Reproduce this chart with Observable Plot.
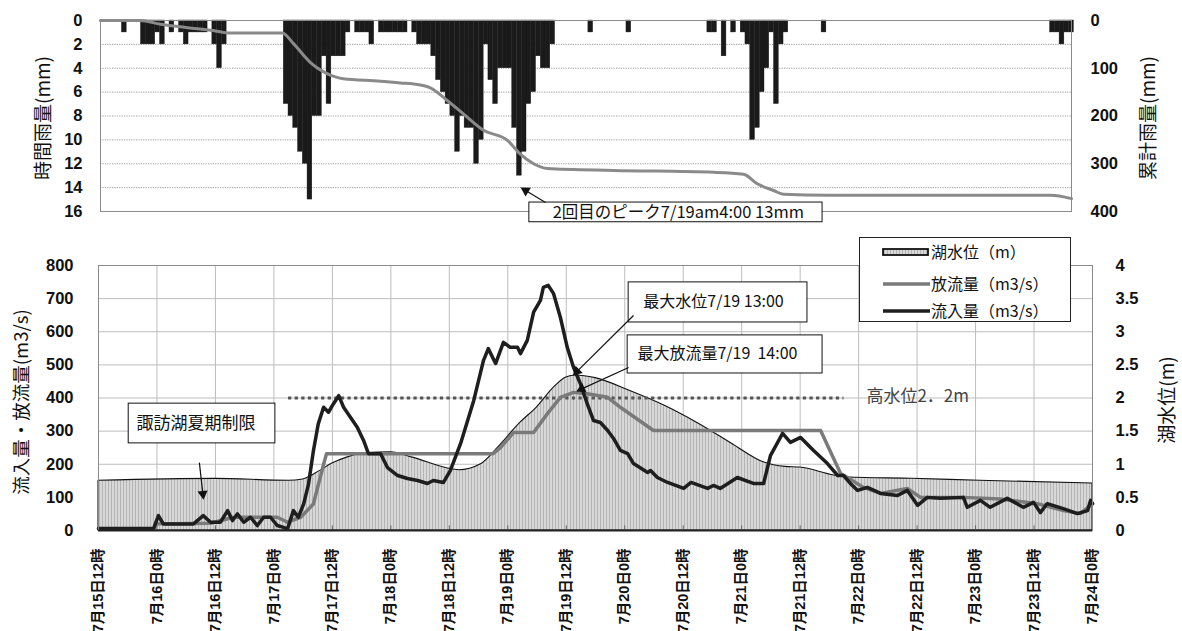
<!DOCTYPE html>
<html><head><meta charset="utf-8">
<script src="https://cdn.jsdelivr.net/npm/d3@7"></script>
<script src="https://cdn.jsdelivr.net/npm/@observablehq/plot@0.6"></script>
<style>
body{margin:0;background:#fff;}
#wrap{position:relative;width:1182px;height:631px;overflow:hidden;}
#top,#bottom{position:absolute;left:0;}
#top{top:0;} #bottom{top:230px;}
#legend{position:absolute;left:859px;top:237px;width:210px;height:83px;border:1px solid #222;background:#fff;}
#legend text{font-family:"Noto Sans CJK JP",sans-serif;font-size:16px;fill:#111;}
</style></head><body>
<div id="wrap"><div id="top"></div><div id="bottom"></div>
<div id="legend"><svg width="210" height="83">
<defs><pattern id="hatchL" patternUnits="userSpaceOnUse" width="3" height="3"><rect width="3" height="3" fill="#d8d8d8"/><rect width="1" height="3" fill="#b4b4b4"/></pattern></defs>
<rect x="23" y="11" width="45" height="6" fill="url(#hatchL)" stroke="#111" stroke-width="1.8"/>
<line x1="23" x2="70" y1="46" y2="46" stroke="#7a7a7a" stroke-width="3.5"/>
<line x1="23" x2="70" y1="73" y2="73" stroke="#1e1e1e" stroke-width="3.5"/>
<text x="71" y="20">湖水位（m）</text>
<text x="71" y="52">放流量（m3/s）</text>
<text x="71" y="79">流入量（m3/s）</text>
</svg></div>
</div>
<script>
// ---------- data ----------
// hourly rainfall (hours since 7/15 12:00)
const rainHour = [4, 8,9,10, 11, 12, 14, 16, 17, 18,19,20,21, 23, 24, 25,
  38,39,40,41,42,43,44,45,46,47,48,49,50,51, 53,54,55,56, 58,59,60,61,62,63,
  65,66,67,68,69,70,71,72,73,74,75,76,77,78,79,80,81,82,83,84,85,86,87,88,89,90,91,92,93,94,
  102, 110, 127,128, 130, 132, 134,135,136,137,138,139,140,141,142,143, 151, 199,200,201,202,203];
const rainMm = [1, 2,2,2, 1, 2, 1, 1, 2, 1,1,1,1, 2, 4, 2,
  7,8,9,11,12,15,8,8,3,7,3,3,3,1, 1,1,1,2, 1,1,1,1,1,1,
  1,2,2,2,3,5,6,7,8,11,8,9,9,12,10,2,5,7,4,4,4,9,13,11,7,6,3,4,4,2,
  1, 1, 1,1, 3, 1, 1,2,10,9,6,4,1,7,2,1, 1, 1,1,2,1,1];
// cumulative rainfall (mm)
const cumHour = [-0.5,7.9,12.1,17.8,23.2,26.2,37.7,40,43.6,46.3,48.5,50.5,58.3,62.5,65.3,68.8,72.4,75.8,80,85,87.7,90.5,93.4,107.3,128.3,134.6,137.5,140.9,143,152.2,199.1,203.5];
const cumMm = [0,0,8,15,21,26,26,48,88,107,117,122,127,131,133,141,168,196,230,251,280,300,310,314,318,322,342,356,364,366,366,373];
// inflow (m3/s)
const inflowH = [0,11.3,12.3,13.3,19.5,21.5,23,25,26.5,27.5,28.5,29.8,31.2,32.6,33.9,35.3,36.7,37.8,38.8,40,41,42.1,43.1,44.1,45.1,46.2,47.2,48.2,49.3,50.3,51.7,53.1,54.4,55.4,57.9,59.3,61.4,63.4,65.5,67.5,68.7,70.8,72.2,74.3,77,79,80,81.5,83.1,84.5,86,86.6,88,89.3,90.7,91.3,92.3,93.4,94.8,96.2,97.5,98.9,100.3,101.6,103,104.5,105.7,107.1,108.6,109.8,112.7,113.3,114.7,116.8,120.1,121.6,125,126.2,127.6,131.1,134.4,136.5,137.9,140.4,142,144.1,146.7,149.6,151.7,152.9,154.3,155.8,157.8,160.5,164,166,168.1,170.1,172.8,177.5,178.3,181,183,186.5,189.8,191.9,193.3,194.7,198,200.9,203,203.6,204];
const inflowV = [6,6,45,20,20,45,25,25,60,30,50,25,40,15,40,40,15,10,5,60,40,80,140,240,322,372,357,382,407,372,342,312,272,232,232,190,166,157,151,142,151,145,181,262,392,513,549,504,568,553,553,534,574,659,695,734,740,715,643,553,492,443,383,332,326,302,278,242,232,202,175,181,160,145,127,145,127,136,127,160,142,142,226,293,266,281,242,202,166,166,142,121,130,112,106,121,76,100,97,100,70,91,70,97,70,85,54,81,66,51,60,91,81];
// outflow (m3/s)
const outH = [0,11.3,12,23,27.7,36.7,38.8,41.5,44.1,46.2,46.8,81,82.5,85.2,89.3,92.1,94.8,97.5,100.3,104.5,107.1,113.9,148.2,152.3,153.7,157,160.5,166,168.7,177.5,185.1,192.7,198,201.5,204];
const outV = [5,5,20,22,40,40,25,40,80,200,232,232,250,296,296,352,402,417,413,402,372,302,302,172,160,130,112,127,100,100,95,81,60,51,81];
// lake level (m)
const lakeH = [0,24,39,42,45.5,48,51,55,60,64.5,71.5,74,78.5,82,86.5,90,93.5,96,98,102,109,116,123,130,136.5,141,144,151,154,167,181,204];
const lakeM = [0.75,0.78,0.75,0.77,0.9,1.01,1.1,1.17,1.18,1.1,0.94,0.91,1.0,1.25,1.62,1.86,2.16,2.31,2.34,2.3,2.11,1.89,1.62,1.31,1.03,0.96,0.95,0.83,0.8,0.78,0.75,0.71];
const highWater = 400; // drawn level on flow axis
const highWaterSpan = [39, 153];
const xTicks = d3.range(0, 205, 12);
const xLabels = ["7月15日12時","7月16日0時","7月16日12時","7月17日0時","7月17日12時","7月18日0時","7月18日12時","7月19日0時","7月19日12時","7月20日0時","7月20日12時","7月21日0時","7月21日12時","7月22日0時","7月22日12時","7月23日0時","7月23日12時","7月24日0時"];
const rainTicks = [0,2,4,6,8,10,12,14,16];
const cumTicks = [0,100,200,300,400];
const flowTicks = [0,100,200,300,400,500,600,700,800];
const levelTicks = [0,0.5,1,1.5,2,2.5,3,3.5,4];

// ---------- helpers ----------
const rain = rainHour.map((h,i)=>({h, mm: rainMm[i]}));
const cum = cumHour.map((h,i)=>({h, v: cumMm[i]}));
const inflow = inflowH.map((h,i)=>({h, v: inflowV[i]}));
const outflow = outH.map((h,i)=>({h, v: outV[i]}));
const lake = lakeH.map((h,i)=>({h, m: lakeM[i]}));
const NUM = '"Liberation Sans","Noto Sans CJK JP",sans-serif';
const JP = '"Noto Sans CJK JP",sans-serif';

function arrowMarks(arr, sx, sy){
  const tips = arr.map(d => {
    const px1=sx(d.x1), py1=sy(d.y1), px2=sx(d.x2), py2=sy(d.y2);
    const L=Math.hypot(px2-px1,py2-py1), ux=(px2-px1)/L, uy=(py2-py1)/L;
    return {x: sx.invert(px2-ux*3.5), y: sy.invert(py2-uy*3.5), r: Math.atan2(ux,-uy)*180/Math.PI};
  });
  return [
    Plot.link(arr, {x1:"x1", y1:"y1", x2:"x2", y2:"y2", stroke:"#111", strokeWidth:1.2}),
    Plot.dot(tips, {x:"x", y:"y", rotate:"r", symbol:"triangle", r:3.8, fill:"#111", stroke:null})
  ];
}

// ---------- top chart ----------
const tX = [-0.5, 203.5], tY = [0, 16];
const sxT = d3.scaleLinear(tX, [100, 1071]), syT = d3.scaleLinear(tY, [20, 211]);
const peak2 = rain.reduce((a,b)=> b.h>60 && b.mm>a.mm ? b : a, {mm:-1});
const topPlot = Plot.plot({
  width:1182, height:232, marginLeft:100, marginRight:111, marginTop:20, marginBottom:21,
  style:{background:"transparent", overflow:"visible", fontFamily:NUM, color:"#111"},
  x:{domain:tX, axis:null},
  y:{domain:tY, reverse:true, axis:null},
  marks:[
    Plot.ruleY(d3.range(2,16,2), {stroke:"#9a9a9a", strokeDasharray:"1.2,1.2", strokeWidth:1}),
    Plot.rect(rain, {x1:"h", x2:d=>d.h+1, y1:d=>0, y2:"mm", fill:"#1a1a1a", stroke:"#1a1a1a", strokeWidth:0.4, inset:0}),
    Plot.line(cum, {x:"h", y:d=>d.v/25, stroke:"#8a8a8a", strokeWidth:3, curve:"monotone-x"}),
    Plot.frame({stroke:"#8a8a8a"}),
    Plot.axisY({anchor:"left", ticks:rainTicks, tickSize:0, tickPadding:18, fontSize:16.5, fontWeight:"bold", label:null}),
    Plot.axisY({anchor:"right", ticks:cumTicks.map(d=>d/25), tickFormat:d=>d*25, tickSize:0, tickPadding:19, fontSize:16.5, fontWeight:"bold", label:null}),
    Plot.text(["時間雨量(mm)"], {text:d=>d, frameAnchor:"left", textAnchor:"middle", dx:-57, dy:2, rotate:-90, fontSize:19, fontFamily:JP, fill:"#111"}),
    Plot.text(["累計雨量(mm)"], {text:d=>d, frameAnchor:"right", textAnchor:"middle", dx:77, dy:2, rotate:-90, fontSize:19, fontFamily:JP, fill:"#111"}),
    Plot.rect([{x1:89.6, x2:151.2, y1:15.25, y2:16.9}], {x1:"x1", x2:"x2", y1:"y1", y2:"y2", fill:"#fff", stroke:"#111", strokeWidth:1}),
    Plot.text(["2回目のピーク7/19am4:00 13mm"], {text:d=>d, x:()=>94.5, y:()=>16.1, textAnchor:"start", fontSize:16.5, fontFamily:JP, fill:"#111"}),
    ...arrowMarks([{x1:93, y1:15.25, x2:peak2.h+1.2, y2:peak2.mm+1.1}], sxT, syT)
  ]
});
document.getElementById("top").appendChild(topPlot);

// ---------- bottom chart ----------
const bX = [0, 204], bY = [0, 800];
const sxB = d3.scaleLinear(bX, [98, 1092]), syB = d3.scaleLinear(bY, [530, 265]);
const lakePeak = lake.reduce((a,b)=> b.m>a.m ? b : a);
const outPeak = outflow.reduce((a,b)=> b.v>a.v ? b : a);
const boxes = [
  {x1:6.2, x2:36.3, y1:263, y2:383},
  {x1:108.8, x2:145.5, y1:628, y2:749},
  {x1:108.6, x2:148.6, y1:474, y2:589}
];
const notes = [
  {x:7.8, y:323, t:"諏訪湖夏期制限", s:17, c:"#111"},
  {x:111.8, y:690, t:"最大水位7/19 13:00", s:16, c:"#111"},
  {x:110.6, y:532, t:"最大放流量7/19\u00a0\u00a014:00", s:16, c:"#111"},
  {x:157.6, y:405, t:"高水位2．2m", s:17, c:"#444"}
];
const bottomPlot = Plot.plot({
  width:1182, height:401, marginLeft:98, marginRight:90, marginTop:35, marginBottom:101,
  style:{background:"transparent", overflow:"visible", fontFamily:NUM, color:"#111"},
  x:{domain:bX, axis:null},
  y:{domain:bY, axis:null},
  marks:[
    Plot.ruleX(xTicks.slice(1,-1), {stroke:"#bdbdbd", strokeWidth:1}),
    Plot.ruleY(flowTicks.slice(1,-1), {stroke:"#bdbdbd", strokeWidth:1}),
    Plot.areaY(lake, {x:"h", y:d=>d.m*200, fill:"url(#hatch)", stroke:"#111", strokeWidth:1.1, curve:"monotone-x"}),
    Plot.ruleX(xTicks.slice(1,-1), {y1:()=>0, y2:()=>14, stroke:"#666", strokeWidth:1}),
    Plot.ruleY([highWater], {x1:()=>highWaterSpan[0], x2:()=>highWaterSpan[1], stroke:"#555", strokeWidth:3, strokeDasharray:"3.3,3.3"}),
    Plot.line(outflow, {x:"h", y:"v", stroke:"#7a7a7a", strokeWidth:3.5, strokeLinejoin:"round"}),
    Plot.line(inflow, {x:"h", y:"v", stroke:"#1e1e1e", strokeWidth:3.5, strokeLinejoin:"round"}),
    Plot.frame({stroke:"#8a8a8a"}),
    Plot.ruleY([0], {stroke:"#222", strokeWidth:2}),
    Plot.rect(boxes, {x1:"x1", x2:"x2", y1:"y1", y2:"y2", fill:"#fff", stroke:"#111", strokeWidth:1}),
    Plot.text(notes, {x:"x", y:"y", text:"t", fontSize:d=>d.s, fill:"c", textAnchor:"start", fontFamily:JP}),
    ...arrowMarks([
      {x1:20.7, y1:205, x2:21.5, y2:100},
      {x1:109.8, y1:649, x2:lakePeak.h-0.3, y2:lakePeak.m*200+5},
      {x1:108.8, y1:492, x2:outPeak.h+1, y2:outPeak.v+6}
    ], sxB, syB),
    Plot.axisY({anchor:"left", ticks:flowTicks, tickSize:0, tickPadding:25, fontSize:16.5, fontWeight:"bold", label:null}),
    Plot.axisY({anchor:"right", ticks:levelTicks.map(d=>d*200), tickFormat:d=>d/200, tickSize:0, tickPadding:23, fontSize:16.5, fontWeight:"bold", label:null}),
    Plot.axisX({ticks:xTicks, tickFormat:d=>xLabels[xTicks.indexOf(d)], tickRotate:-90, tickSize:0, tickPadding:18, fontSize:14.5, fontWeight:"bold", label:null}),
    Plot.text(["流入量・放流量(m3/s)"], {text:d=>d, frameAnchor:"left", textAnchor:"middle", dx:-76, dy:4, rotate:-90, fontSize:18.5, fontFamily:JP, fill:"#111"}),
    Plot.text(["湖水位(m)"], {text:d=>d, frameAnchor:"right", textAnchor:"middle", dx:75, dy:2, rotate:-90, fontSize:19, fontFamily:JP, fill:"#111"})
  ]
});
const defs = d3.select(bottomPlot).insert("defs", ":first-child");
const pat = defs.append("pattern").attr("id","hatch").attr("patternUnits","userSpaceOnUse").attr("width",3).attr("height",3);
pat.append("rect").attr("width",3).attr("height",3).attr("fill","#d8d8d8");
pat.append("rect").attr("width",1).attr("height",3).attr("fill","#b4b4b4");
document.getElementById("bottom").appendChild(bottomPlot);
</script>
</body></html>
